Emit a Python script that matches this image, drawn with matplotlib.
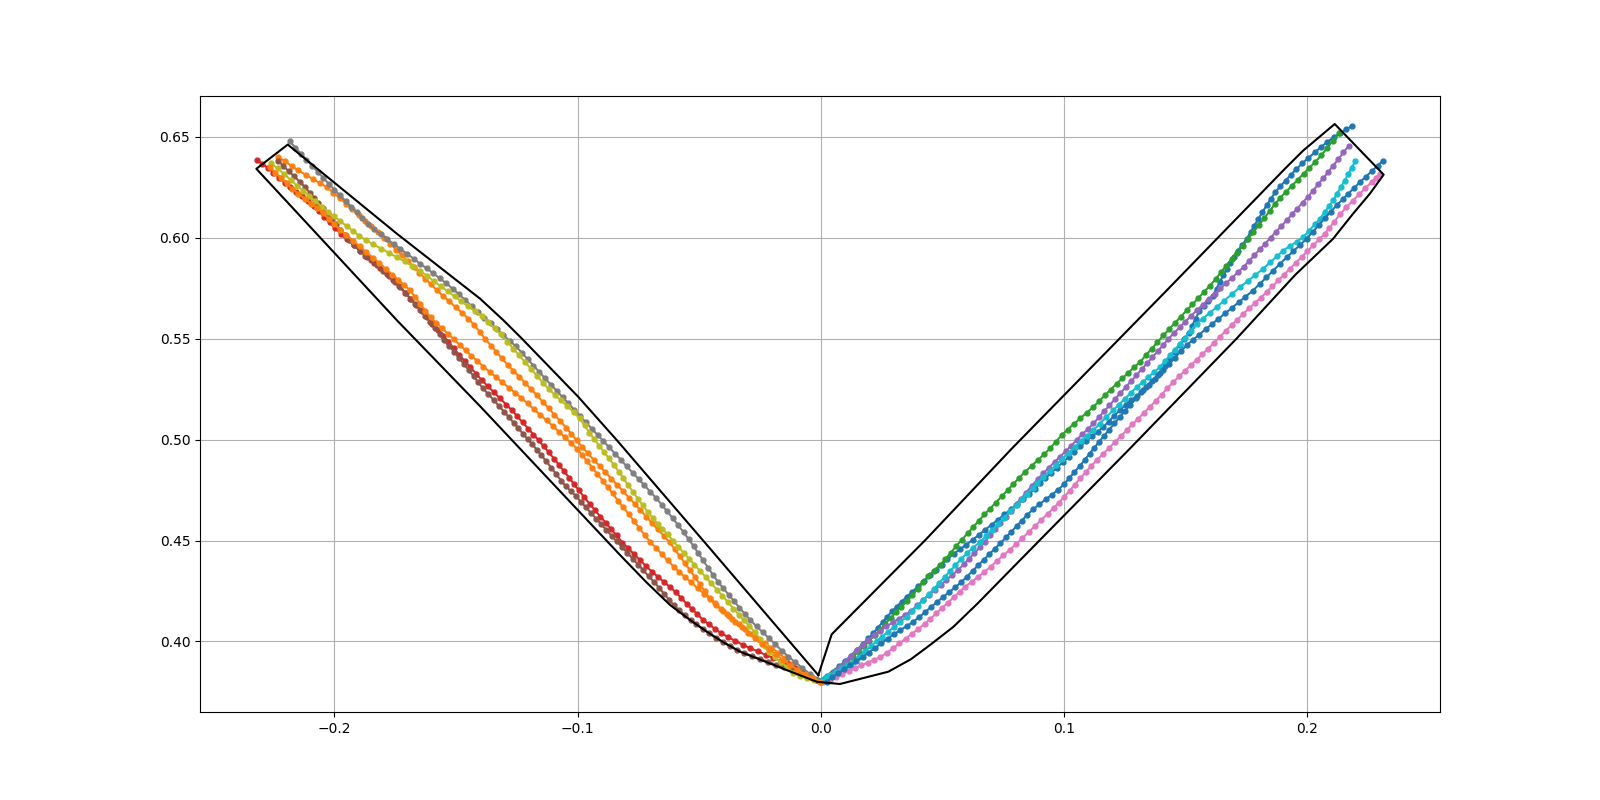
import matplotlib
matplotlib.use("Agg")
import matplotlib.pyplot as plt

# (x, y), one list per track
blue_a = [(.0003,.3808),(.0026,.3828),(.0051,.3850),(.0075,.3876),(.0099,.3903),(.0123,.3930),(.0147,.3958),(.0171,.3986),(.0195,.4015),(.0215,.4040),(.0234,.4068),(.0253,.4095),(.0272,.4122),(.0292,.4149),(.0312,.4173),(.0332,.4197),(.0352,.4221),(.0376,.4247),(.0400,.4274),(.0424,.4300),(.0448,.4327),(.0472,.4354),(.0496,.4381),(.0520,.4408),(.0546,.4434),(.0572,.4457),(.0598,.4480),(.0624,.4504),(.0650,.4529),(.0676,.4554),(.0702,.4579),(.0728,.4604),(.0754,.4629),(.0780,.4654),(.0806,.4679),(.0832,.4704),(.0856,.4730),(.0878,.4756),(.0900,.4784),(.0922,.4809),(.0946,.4835),(.0970,.4861),(.0994,.4887),(.1018,.4914),(.1042,.4940),(.1066,.4967),(.1090,.4992),(.1114,.5016),(.1138,.5040),(.1160,.5062),(.1182,.5089),(.1204,.5116),(.1228,.5145),(.1252,.5173),(.1276,.5196),(.1300,.5218),(.1324,.5244),(.1348,.5273),(.1372,.5302),(.1394,.5330),(.1414,.5365),(.1434,.5401),(.1454,.5436),(.1474,.5468),(.1494,.5500),(.1512,.5530),(.1526,.5565),(.1540,.5600),(.1556,.5637),(.1574,.5662),(.1592,.5687),(.1610,.5712),(.1626,.5748),(.1640,.5782),(.1654,.5815),(.1668,.5846),(.1682,.5877),(.1696,.5907),(.1714,.5937),(.1732,.5966),(.1750,.5995),(.1766,.6028),(.1782,.6061),(.1798,.6094),(.1814,.6126),(.1832,.6161),(.1850,.6194),(.1868,.6227),(.1888,.6255),(.1910,.6284),(.1932,.6312),(.1954,.6340),(.1978,.6369),(.2004,.6396),(.2030,.6423),(.2056,.6450),(.2082,.6476),(.2108,.6498),(.2134,.6519),(.2160,.6538),(.2183,.6554)]

orange_a = [(-.2232,.6402),(-.2204,.6379),(-.2176,.6356),(-.2148,.6334),(-.2118,.6312),(-.2089,.6292),(-.2060,.6271),(-.2031,.6250),(-.2005,.6224),(-.1979,.6197),(-.1953,.6170),(-.1927,.6142),(-.1901,.6114),(-.1875,.6085),(-.1849,.6057),(-.1823,.6029),(-.1797,.6000),(-.1771,.5971),(-.1747,.5942),(-.1723,.5914),(-.1699,.5885),(-.1675,.5856),(-.1651,.5827),(-.1627,.5798),(-.1603,.5769),(-.1579,.5740),(-.1554,.5713),(-.1528,.5685),(-.1502,.5657),(-.1476,.5629),(-.1450,.5600),(-.1426,.5569),(-.1403,.5534),(-.1380,.5498),(-.1357,.5466),(-.1334,.5434),(-.1311,.5402),(-.1288,.5371),(-.1264,.5341),(-.1240,.5311),(-.1216,.5281),(-.1192,.5250),(-.1168,.5220),(-.1144,.5188),(-.1120,.5156),(-.1096,.5124),(-.1072,.5092),(-.1048,.5060),(-.1026,.5028),(-.1004,.4996),(-.0982,.4964),(-.0958,.4932),(-.0934,.4900),(-.0910,.4869),(-.0886,.4838),(-.0862,.4807),(-.0838,.4776),(-.0814,.4745),(-.0790,.4713),(-.0766,.4682),(-.0742,.4650),(-.0718,.4618),(-.0694,.4586),(-.0670,.4555),(-.0646,.4523),(-.0622,.4491),(-.0601,.4456),(-.0580,.4421),(-.0559,.4387),(-.0538,.4352),(-.0518,.4318),(-.0498,.4283),(-.0478,.4249),(-.0458,.4216),(-.0436,.4190),(-.0412,.4163),(-.0388,.4136),(-.0364,.4109),(-.0338,.4085),(-.0312,.4061),(-.0285,.4037),(-.0258,.4014),(-.0231,.3991),(-.0204,.3968),(-.0176,.3944),(-.0148,.3917),(-.0120,.3890),(-.0092,.3863),(-.0064,.3842),(-.0036,.3822),(-.0010,.3805)]

green = [(.0017,.3817),(.0040,.3837),(.0063,.3857),(.0086,.3878),(.0109,.3901),(.0132,.3925),(.0155,.3950),(.0177,.3976),(.0199,.4003),(.0221,.4030),(.0243,.4058),(.0265,.4087),(.0287,.4117),(.0309,.4145),(.0331,.4172),(.0353,.4199),(.0375,.4229),(.0397,.4261),(.0419,.4293),(.0442,.4322),(.0465,.4350),(.0488,.4378),(.0511,.4406),(.0534,.4440),(.0557,.4474),(.0580,.4505),(.0603,.4536),(.0626,.4567),(.0649,.4598),(.0672,.4629),(.0695,.4658),(.0719,.4688),(.0743,.4719),(.0767,.4749),(.0791,.4780),(.0815,.4811),(.0840,.4841),(.0866,.4870),(.0892,.4899),(.0918,.4928),(.0942,.4957),(.0966,.4990),(.0990,.5022),(.1014,.5050),(.1040,.5078),(.1066,.5106),(.1092,.5133),(.1119,.5161),(.1143,.5190),(.1167,.5219),(.1191,.5248),(.1215,.5277),(.1239,.5304),(.1263,.5331),(.1287,.5358),(.1311,.5384),(.1335,.5417),(.1359,.5450),(.1383,.5483),(.1407,.5516),(.1431,.5547),(.1455,.5578),(.1479,.5609),(.1503,.5640),(.1527,.5670),(.1551,.5701),(.1575,.5732),(.1599,.5763),(.1622,.5795),(.1644,.5829),(.1666,.5862),(.1688,.5894),(.1710,.5927),(.1733,.5961),(.1756,.5995),(.1778,.6029),(.1800,.6063),(.1822,.6097),(.1845,.6134),(.1866,.6166),(.1888,.6199),(.1912,.6228),(.1936,.6258),(.1960,.6288),(.1984,.6318),(.2008,.6347),(.2032,.6376),(.2056,.6408),(.2080,.6444),(.2104,.6481),(.2129,.6518)]

red = [(-.2318,.6386),(-.2296,.6367),(-.2275,.6348),(-.2251,.6323),(-.2227,.6298),(-.2204,.6274),(-.2181,.6250),(-.2157,.6227),(-.2133,.6205),(-.2109,.6182),(-.2086,.6160),(-.2064,.6132),(-.2042,.6104),(-.2020,.6076),(-.1998,.6048),(-.1974,.6020),(-.1947,.5992),(-.1920,.5963),(-.1893,.5934),(-.1866,.5906),(-.1839,.5877),(-.1812,.5848),(-.1785,.5819),(-.1758,.5790),(-.1734,.5760),(-.1711,.5729),(-.1688,.5698),(-.1665,.5667),(-.1642,.5636),(-.1620,.5607),(-.1598,.5575),(-.1576,.5545),(-.1554,.5515),(-.1532,.5485),(-.1510,.5453),(-.1488,.5421),(-.1465,.5390),(-.1441,.5358),(-.1417,.5326),(-.1394,.5294),(-.1369,.5264),(-.1344,.5234),(-.1319,.5204),(-.1294,.5174),(-.1270,.5145),(-.1248,.5115),(-.1226,.5085),(-.1204,.5055),(-.1182,.5025),(-.1161,.4997),(-.1140,.4967),(-.1119,.4937),(-.1098,.4906),(-.1077,.4875),(-.1056,.4843),(-.1035,.4811),(-.1015,.4779),(-.0995,.4748),(-.0973,.4714),(-.0951,.4682),(-.0929,.4650),(-.0907,.4619),(-.0885,.4588),(-.0863,.4557),(-.0840,.4525),(-.0816,.4490),(-.0792,.4461),(-.0768,.4432),(-.0744,.4403),(-.0720,.4374),(-.0695,.4346),(-.0670,.4320),(-.0645,.4294),(-.0620,.4269),(-.0596,.4243),(-.0574,.4215),(-.0552,.4187),(-.0530,.4160),(-.0508,.4135),(-.0486,.4108),(-.0461,.4085),(-.0436,.4062),(-.0410,.4041),(-.0382,.4022),(-.0353,.4003),(-.0322,.3984),(-.0292,.3967),(-.0260,.3951),(-.0228,.3934),(-.0196,.3918),(-.0166,.3904),(-.0136,.3888),(-.0106,.3869),(-.0076,.3850),(-.0046,.3829),(-.0017,.3808)]

purple = [(.0010,.3808),(.0033,.3830),(.0056,.3852),(.0079,.3875),(.0102,.3902),(.0125,.3930),(.0148,.3958),(.0171,.3984),(.0195,.4007),(.0219,.4030),(.0243,.4052),(.0269,.4074),(.0295,.4094),(.0321,.4113),(.0347,.4132),(.0372,.4153),(.0396,.4179),(.0420,.4205),(.0444,.4231),(.0468,.4255),(.0492,.4280),(.0516,.4304),(.0540,.4329),(.0564,.4354),(.0587,.4382),(.0609,.4410),(.0631,.4438),(.0653,.4466),(.0675,.4495),(.0696,.4526),(.0717,.4556),(.0738,.4586),(.0759,.4617),(.0780,.4647),(.0801,.4678),(.0822,.4707),(.0843,.4737),(.0866,.4770),(.0891,.4804),(.0914,.4833),(.0937,.4861),(.0960,.4889),(.0983,.4916),(.1006,.4943),(.1029,.4970),(.1052,.5000),(.1075,.5027),(.1098,.5053),(.1120,.5080),(.1142,.5110),(.1164,.5140),(.1186,.5170),(.1208,.5200),(.1230,.5229),(.1252,.5259),(.1274,.5289),(.1296,.5318),(.1318,.5348),(.1340,.5378),(.1362,.5408),(.1384,.5438),(.1406,.5468),(.1428,.5498),(.1450,.5527),(.1474,.5556),(.1498,.5585),(.1522,.5614),(.1546,.5642),(.1570,.5669),(.1594,.5696),(.1618,.5722),(.1642,.5749),(.1666,.5776),(.1690,.5802),(.1714,.5829),(.1738,.5856),(.1760,.5885),(.1782,.5914),(.1804,.5943),(.1826,.5971),(.1848,.6000),(.1870,.6029),(.1892,.6057),(.1914,.6086),(.1936,.6116),(.1958,.6145),(.1980,.6175),(.2002,.6204),(.2023,.6234),(.2044,.6265),(.2065,.6296),(.2085,.6325),(.2106,.6358),(.2127,.6390),(.2148,.6423),(.2170,.6457)]

brown = [(-.2232,.6383),(-.2210,.6356),(-.2188,.6330),(-.2165,.6304),(-.2142,.6277),(-.2120,.6250),(-.2102,.6224),(-.2084,.6198),(-.2066,.6172),(-.2048,.6146),(-.2030,.6119),(-.2012,.6093),(-.1994,.6067),(-.1976,.6041),(-.1958,.6015),(-.1940,.5989),(-.1921,.5962),(-.1897,.5937),(-.1873,.5912),(-.1849,.5888),(-.1825,.5863),(-.1801,.5836),(-.1777,.5809),(-.1753,.5781),(-.1729,.5754),(-.1707,.5727),(-.1687,.5698),(-.1667,.5670),(-.1647,.5642),(-.1628,.5615),(-.1608,.5585),(-.1588,.5555),(-.1568,.5525),(-.1548,.5495),(-.1528,.5465),(-.1508,.5435),(-.1488,.5405),(-.1468,.5375),(-.1448,.5345),(-.1428,.5315),(-.1410,.5285),(-.1390,.5255),(-.1368,.5226),(-.1346,.5197),(-.1324,.5167),(-.1302,.5137),(-.1282,.5110),(-.1263,.5083),(-.1244,.5056),(-.1225,.5029),(-.1206,.5003),(-.1187,.4977),(-.1168,.4950),(-.1149,.4922),(-.1129,.4892),(-.1108,.4860),(-.1088,.4828),(-.1068,.4797),(-.1048,.4768),(-.1028,.4745),(-.1008,.4721),(-.0987,.4692),(-.0966,.4664),(-.0945,.4636),(-.0924,.4608),(-.0903,.4580),(-.0882,.4552),(-.0861,.4524),(-.0840,.4496),(-.0818,.4468),(-.0796,.4439),(-.0774,.4410),(-.0752,.4381),(-.0730,.4352),(-.0708,.4323),(-.0686,.4294),(-.0665,.4265),(-.0645,.4236),(-.0625,.4207),(-.0605,.4179),(-.0582,.4154),(-.0559,.4130),(-.0536,.4106),(-.0512,.4084),(-.0487,.4063),(-.0460,.4040),(-.0432,.4016),(-.0404,.3997),(-.0376,.3978),(-.0346,.3957),(-.0315,.3942),(-.0283,.3928),(-.0251,.3913),(-.0218,.3899),(-.0185,.3885),(-.0152,.3871),(-.0119,.3857),(-.0086,.3843),(-.0052,.3826),(-.0017,.3808)]

pink = [(.0010,.3800),(.0036,.3811),(.0062,.3824),(.0088,.3838),(.0114,.3853),(.0140,.3868),(.0166,.3882),(.0192,.3895),(.0218,.3908),(.0244,.3923),(.0270,.3943),(.0296,.3966),(.0322,.3990),(.0348,.4014),(.0374,.4038),(.0400,.4062),(.0426,.4087),(.0450,.4113),(.0474,.4139),(.0498,.4166),(.0522,.4192),(.0546,.4219),(.0570,.4246),(.0594,.4272),(.0620,.4296),(.0646,.4320),(.0672,.4344),(.0698,.4371),(.0724,.4399),(.0750,.4427),(.0776,.4454),(.0802,.4482),(.0828,.4512),(.0854,.4542),(.0880,.4572),(.0906,.4602),(.0932,.4633),(.0956,.4661),(.0978,.4687),(.1000,.4717),(.1022,.4747),(.1044,.4777),(.1066,.4808),(.1088,.4838),(.1112,.4871),(.1136,.4900),(.1160,.4929),(.1184,.4958),(.1208,.4987),(.1232,.5016),(.1256,.5046),(.1280,.5075),(.1304,.5104),(.1328,.5133),(.1352,.5162),(.1376,.5192),(.1400,.5223),(.1424,.5254),(.1448,.5285),(.1472,.5313),(.1496,.5341),(.1520,.5368),(.1544,.5395),(.1568,.5423),(.1592,.5451),(.1616,.5480),(.1640,.5509),(.1664,.5539),(.1688,.5568),(.1712,.5595),(.1736,.5623),(.1760,.5650),(.1784,.5677),(.1808,.5704),(.1832,.5731),(.1856,.5760),(.1880,.5789),(.1904,.5818),(.1928,.5847),(.1952,.5876),(.1976,.5905),(.2000,.5934),(.2024,.5963),(.2048,.5992),(.2070,.6019),(.2090,.6049),(.2110,.6080),(.2134,.6117),(.2160,.6152),(.2186,.6183),(.2212,.6215),(.2238,.6246),(.2264,.6277),(.2280,.6296),(.2297,.6317)]

gray = [(-.2184,.6478),(-.2161,.6447),(-.2138,.6417),(-.2115,.6387),(-.2092,.6357),(-.2069,.6327),(-.2046,.6297),(-.2023,.6267),(-.2000,.6238),(-.1977,.6210),(-.1954,.6182),(-.1931,.6154),(-.1908,.6126),(-.1885,.6098),(-.1862,.6069),(-.1837,.6042),(-.1810,.6018),(-.1783,.5993),(-.1756,.5969),(-.1729,.5945),(-.1702,.5921),(-.1675,.5897),(-.1648,.5872),(-.1621,.5848),(-.1594,.5824),(-.1567,.5799),(-.1540,.5774),(-.1514,.5748),(-.1488,.5720),(-.1462,.5691),(-.1436,.5662),(-.1410,.5632),(-.1384,.5604),(-.1358,.5576),(-.1332,.5547),(-.1306,.5518),(-.1280,.5490),(-.1254,.5462),(-.1230,.5431),(-.1206,.5399),(-.1182,.5367),(-.1158,.5335),(-.1134,.5303),(-.1110,.5272),(-.1086,.5241),(-.1062,.5210),(-.1038,.5179),(-.1014,.5148),(-.0990,.5117),(-.0966,.5085),(-.0942,.5054),(-.0918,.5023),(-.0894,.4992),(-.0870,.4961),(-.0846,.4930),(-.0822,.4899),(-.0798,.4867),(-.0774,.4836),(-.0750,.4805),(-.0726,.4774),(-.0702,.4742),(-.0678,.4711),(-.0655,.4678),(-.0632,.4644),(-.0609,.4610),(-.0587,.4576),(-.0565,.4541),(-.0544,.4507),(-.0524,.4472),(-.0504,.4436),(-.0484,.4401),(-.0464,.4365),(-.0444,.4330),(-.0424,.4296),(-.0402,.4264),(-.0380,.4232),(-.0358,.4200),(-.0336,.4168),(-.0313,.4136),(-.0290,.4105),(-.0265,.4075),(-.0240,.4046),(-.0214,.4016),(-.0188,.3986),(-.0162,.3955),(-.0134,.3925),(-.0105,.3896),(-.0076,.3868),(-.0047,.3840),(-.0019,.3815),(0,.3800)]

olive = [(-.2261,.6369),(-.2234,.6344),(-.2207,.6316),(-.2180,.6287),(-.2153,.6258),(-.2128,.6232),(-.2103,.6206),(-.2078,.6180),(-.2053,.6155),(-.2028,.6130),(-.2002,.6106),(-.1976,.6083),(-.1950,.6058),(-.1924,.6034),(-.1898,.6010),(-.1870,.5988),(-.1840,.5967),(-.1808,.5947),(-.1776,.5926),(-.1744,.5904),(-.1712,.5884),(-.1680,.5862),(-.1650,.5838),(-.1620,.5812),(-.1590,.5784),(-.1562,.5759),(-.1534,.5735),(-.1506,.5710),(-.1478,.5685),(-.1450,.5660),(-.1422,.5636),(-.1394,.5612),(-.1368,.5582),(-.1342,.5552),(-.1316,.5522),(-.1290,.5486),(-.1264,.5450),(-.1240,.5417),(-.1216,.5384),(-.1192,.5350),(-.1168,.5317),(-.1144,.5283),(-.1120,.5252),(-.1094,.5222),(-.1068,.5194),(-.1042,.5165),(-.1016,.5135),(-.0992,.5105),(-.0972,.5070),(-.0952,.5035),(-.0932,.5002),(-.0912,.4970),(-.0892,.4938),(-.0872,.4908),(-.0852,.4876),(-.0832,.4842),(-.0812,.4808),(-.0792,.4774),(-.0772,.4740),(-.0752,.4706),(-.0732,.4674),(-.0712,.4642),(-.0692,.4612),(-.0672,.4584),(-.0652,.4556),(-.0630,.4530),(-.0608,.4498),(-.0586,.4468),(-.0564,.4438),(-.0542,.4409),(-.0520,.4380),(-.0497,.4350),(-.0474,.4319),(-.0451,.4288),(-.0428,.4257),(-.0405,.4226),(-.0382,.4195),(-.0360,.4163),(-.0338,.4133),(-.0316,.4104),(-.0294,.4076),(-.0272,.4047),(-.0252,.4012),(-.0232,.3977),(-.0212,.3947),(-.0190,.3922),(-.0166,.3899),(-.0140,.3873),(-.0113,.3842),(-.0085,.3829),(-.0058,.3817),(-.0030,.3808),(0,.3800)]

cyan = [(.0003,.3810),(.0020,.3822),(.0037,.3833),(.0061,.3849),(.0085,.3866),(.0109,.3882),(.0133,.3899),(.0157,.3925),(.0181,.3951),(.0205,.3976),(.0229,.4001),(.0250,.4023),(.0275,.4047),(.0300,.4071),(.0325,.4096),(.0352,.4122),(.0375,.4149),(.0398,.4177),(.0421,.4204),(.0443,.4233),(.0465,.4262),(.0487,.4291),(.0509,.4320),(.0531,.4349),(.0553,.4378),(.0575,.4407),(.0599,.4436),(.0626,.4465),(.0654,.4493),(.0679,.4523),(.0704,.4553),(.0729,.4584),(.0754,.4614),(.0779,.4645),(.0804,.4675),(.0826,.4704),(.0848,.4732),(.0870,.4760),(.0889,.4785),(.0914,.4814),(.0940,.4844),(.0966,.4874),(.0992,.4904),(.1018,.4934),(.1044,.4963),(.1069,.4991),(.1094,.5019),(.1119,.5046),(.1146,.5079),(.1173,.5112),(.1201,.5145),(.1225,.5174),(.1249,.5202),(.1273,.5231),(.1298,.5260),(.1322,.5285),(.1346,.5310),(.1370,.5335),(.1393,.5359),(.1414,.5389),(.1434,.5417),(.1455,.5446),(.1475,.5475),(.1496,.5505),(.1520,.5540),(.1544,.5574),(.1570,.5600),(.1598,.5628),(.1626,.5656),(.1658,.5689),(.1690,.5722),(.1722,.5755),(.1754,.5786),(.1786,.5816),(.1818,.5847),(.1846,.5878),(.1874,.5908),(.1900,.5937),(.1928,.5959),(.1956,.5981),(.1982,.6003),(.2006,.6035),(.2030,.6066),(.2051,.6094),(.2070,.6126),(.2088,.6156),(.2105,.6185),(.2121,.6218),(.2137,.6251),(.2153,.6284),(.2168,.6317),(.2182,.6348),(.2196,.6379)]

blue_b = [(.0024,.3800),(.0047,.3822),(.0071,.3842),(.0096,.3862),(.0121,.3882),(.0146,.3902),(.0171,.3923),(.0196,.3944),(.0222,.3967),(.0248,.3991),(.0274,.4014),(.0300,.4036),(.0326,.4056),(.0352,.4076),(.0378,.4096),(.0403,.4120),(.0428,.4145),(.0453,.4171),(.0478,.4196),(.0503,.4221),(.0528,.4245),(.0553,.4269),(.0577,.4294),(.0600,.4321),(.0623,.4349),(.0646,.4377),(.0669,.4404),(.0692,.4432),(.0715,.4460),(.0738,.4487),(.0760,.4515),(.0782,.4543),(.0804,.4571),(.0826,.4599),(.0848,.4627),(.0872,.4655),(.0898,.4680),(.0924,.4704),(.0950,.4728),(.0976,.4752),(.0998,.4778),(.1020,.4808),(.1042,.4839),(.1064,.4870),(.1084,.4899),(.1104,.4930),(.1124,.4960),(.1144,.4990),(.1164,.5019),(.1184,.5048),(.1206,.5080),(.1228,.5111),(.1250,.5142),(.1272,.5173),(.1294,.5204),(.1316,.5235),(.1338,.5263),(.1360,.5290),(.1384,.5318),(.1407,.5345),(.1431,.5375),(.1455,.5406),(.1479,.5437),(.1503,.5467),(.1529,.5494),(.1555,.5520),(.1581,.5547),(.1607,.5572),(.1633,.5598),(.1661,.5625),(.1689,.5653),(.1717,.5680),(.1745,.5708),(.1775,.5738),(.1803,.5771),(.1831,.5804),(.1859,.5838),(.1887,.5871),(.1915,.5904),(.1942,.5934),(.1969,.5964),(.1996,.5995),(.2021,.6028),(.2046,.6062),(.2071,.6096),(.2096,.6130),(.2120,.6161),(.2144,.6190),(.2168,.6219),(.2192,.6248),(.2216,.6276),(.2240,.6303),(.2264,.6330),(.2288,.6357),(.2311,.6383)]

orange_b = [(-.2266,.6350),(-.2243,.6323),(-.2220,.6296),(-.2197,.6270),(-.2174,.6243),(-.2148,.6218),(-.2122,.6194),(-.2096,.6170),(-.2070,.6147),(-.2047,.6122),(-.2024,.6094),(-.2001,.6067),(-.1978,.6041),(-.1951,.6014),(-.1924,.5986),(-.1897,.5958),(-.1870,.5930),(-.1843,.5902),(-.1816,.5875),(-.1789,.5846),(-.1762,.5818),(-.1738,.5793),(-.1714,.5767),(-.1690,.5741),(-.1668,.5706),(-.1647,.5672),(-.1626,.5638),(-.1605,.5606),(-.1581,.5578),(-.1557,.5551),(-.1533,.5524),(-.1509,.5497),(-.1485,.5470),(-.1461,.5443),(-.1437,.5416),(-.1413,.5389),(-.1388,.5362),(-.1362,.5336),(-.1336,.5310),(-.1310,.5284),(-.1284,.5258),(-.1258,.5233),(-.1232,.5207),(-.1206,.5179),(-.1180,.5151),(-.1154,.5123),(-.1128,.5095),(-.1103,.5068),(-.1078,.5040),(-.1053,.5012),(-.1028,.4984),(-.1003,.4955),(-.0982,.4924),(-.0961,.4893),(-.0940,.4861),(-.0919,.4829),(-.0898,.4797),(-.0877,.4765),(-.0856,.4733),(-.0835,.4698),(-.0813,.4665),(-.0791,.4632),(-.0769,.4597),(-.0747,.4562),(-.0725,.4527),(-.0702,.4493),(-.0678,.4463),(-.0654,.4432),(-.0630,.4402),(-.0606,.4371),(-.0582,.4343),(-.0558,.4318),(-.0533,.4292),(-.0507,.4264),(-.0481,.4237),(-.0455,.4209),(-.0430,.4180),(-.0404,.4152),(-.0378,.4125),(-.0352,.4098),(-.0326,.4071),(-.0298,.4043),(-.0270,.4015),(-.0242,.3987),(-.0214,.3961),(-.0186,.3936),(-.0157,.3910),(-.0127,.3883),(-.0097,.3860),(-.0067,.3838),(-.0036,.3818),(-.0004,.3800)]

# black outline around both lobes
hull_x = [-.0011,-.0456,-.0633,-.0839,-.0997,-.1229,-.1305,-.1401,-.1743,-.2192,-.2321,-.1743,-.1401,-.1038,-.0825,-.0720,-.0620,-.0540,-.0469,-.0400,-.0332,-.0141,-.0017,.0078,.0277,.0370,.0448,.0544,.0643,.0818,.1263,.1708,.1950,.2105,.2187,.2256,.2313,.2112,.1982,.1907,.1421,.0784,.0428,.0044,-.0011]
hull_y = [.3833,.4460,.4708,.4997,.5211,.5500,.5591,.5698,.6020,.6462,.6342,.5591,.5165,.4700,.4427,.4296,.4180,.4108,.4048,.3995,.3949,.3858,.3800,.3789,.3850,.3912,.3982,.4072,.4187,.4402,.4947,.5500,.5817,.5995,.6119,.6218,.6313,.6564,.6432,.6342,.5739,.4955,.4501,.4035,.3833]

tracks = [blue_a, orange_a, green, red, purple, brown, pink, gray, olive, cyan, blue_b, orange_b]

fig, ax = plt.subplots(figsize=(16, 8))
for t in tracks:
    xs, ys = zip(*t)
    ax.plot(xs, ys, '.-', markersize=7)
ax.plot(hull_x, hull_y, 'k')
ax.grid()
plt.savefig("out.png", dpi=100)
